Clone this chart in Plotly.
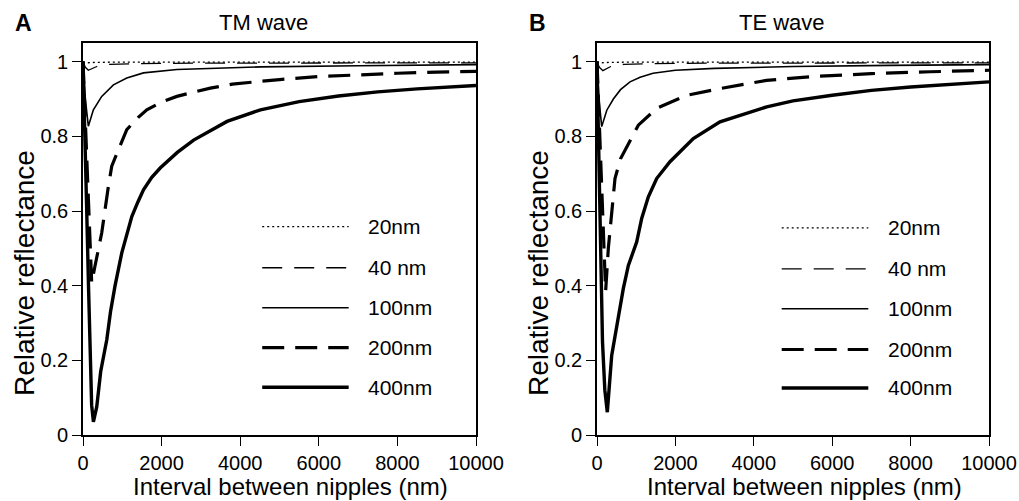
import plotly.graph_objects as go

# ---------------- data ----------------
x_ticks = [0, 2000, 4000, 6000, 8000, 10000]
x_tick_labels = ["0", "2000", "4000", "6000", "8000", "10000"]
y_ticks = [0, 0.2, 0.4, 0.6, 0.8, 1.0]
y_tick_labels = ["0", "0.2", "0.4", "0.6", "0.8", "1"]

series_names = ["20nm", "40 nm", "100nm", "200nm", "400nm"]

# TM wave (panel A)
tm_20_x = [0, 100, 300, 1000, 4000, 10000]
tm_20_y = [1.0, 0.997, 0.998, 0.999, 0.999, 0.999]
tm_40_x = [0, 60, 136, 349, 689, 1500, 3000, 6000, 10000]
tm_40_y = [1.0, 0.985, 0.977, 0.987, 0.993, 0.995, 0.996, 0.997, 0.997]
tm_100_x = [0, 60, 136, 264, 476, 774, 1114, 1539, 2389, 4515, 7000, 10000]
tm_100_y = [1.0, 0.90, 0.827, 0.871, 0.907, 0.938, 0.956, 0.970, 0.979, 0.986, 0.989, 0.992]
tm_200_x = [0, 60, 130, 221, 300, 476, 646, 731, 901, 1114, 1400, 1624, 2000, 2389,
            2800, 3240, 3800, 4430, 5000, 6000, 7000, 8000, 9000, 10000]
tm_200_y = [1.0, 0.84, 0.63, 0.407, 0.45, 0.541, 0.666, 0.72, 0.764, 0.818, 0.85, 0.871,
            0.892, 0.907, 0.918, 0.929, 0.94, 0.947, 0.952, 0.96, 0.965, 0.969, 0.972, 0.974]
tm_400_x = [0, 40, 90, 140, 180, 220, 265, 350, 450, 605, 700, 816, 987, 1100, 1242,
            1400, 1539, 1750, 1964, 2400, 2815, 3666, 4515, 5500, 6500, 7500, 8500, 10000]
tm_400_y = [1.0, 0.86, 0.62, 0.40, 0.22, 0.08, 0.035, 0.076, 0.17, 0.255, 0.33, 0.40,
            0.488, 0.53, 0.585, 0.625, 0.657, 0.69, 0.715, 0.757, 0.79, 0.84, 0.871,
            0.893, 0.908, 0.919, 0.927, 0.936]

# TE wave (panel B)
te_20_x = [0, 100, 300, 1000, 4000, 10000]
te_20_y = [1.0, 0.997, 0.998, 0.999, 0.999, 0.999]
te_40_x = [0, 60, 150, 349, 689, 1500, 3000, 6000, 10000]
te_40_y = [1.0, 0.985, 0.976, 0.987, 0.993, 0.995, 0.996, 0.997, 0.997]
te_100_x = [0, 50, 120, 250, 417, 600, 842, 1100, 1430, 2000, 3000, 5000, 7500, 10000]
te_100_y = [1.0, 0.90, 0.826, 0.87, 0.90, 0.925, 0.946, 0.958, 0.969, 0.977, 0.982,
            0.987, 0.990, 0.992]
te_200_x = [0, 60, 130, 220, 289, 370, 459, 600, 800, 1054, 1523, 2288, 3138, 4328,
            5500, 7000, 8500, 10000]
te_200_y = [1.0, 0.82, 0.60, 0.385, 0.50, 0.60, 0.687, 0.74, 0.78, 0.83, 0.875, 0.91,
            0.928, 0.95, 0.96, 0.968, 0.973, 0.977]
te_400_x = [0, 40, 80, 140, 200, 263, 375, 502, 671, 800, 1012, 1140, 1310, 1522, 1862,
            2457, 3138, 4329, 5000, 6000, 7000, 8000, 9000, 10000]
te_400_y = [1.0, 0.80, 0.52, 0.25, 0.12, 0.061, 0.213, 0.293, 0.392, 0.454, 0.517, 0.58,
            0.638, 0.687, 0.732, 0.794, 0.839, 0.879, 0.895, 0.91, 0.923, 0.932, 0.94, 0.946]

# ---------------- styles ----------------
FONT = "Liberation Sans, Arial, Helvetica, sans-serif"
styles = [
    dict(width=1.3, dash="2px,3px"),      # 20nm dotted
    dict(width=1.3, dash="20px,12px"),    # 40nm thin dash
    dict(width=1.6, dash="solid"),        # 100nm thin solid
    dict(width=3.2, dash="22px,11px"),    # 200nm thick dash
    dict(width=3.4, dash="solid"),        # 400nm thick solid
]

tm = [(tm_20_x, tm_20_y), (tm_40_x, tm_40_y), (tm_100_x, tm_100_y),
      (tm_200_x, tm_200_y), (tm_400_x, tm_400_y)]
te = [(te_20_x, te_20_y), (te_40_x, te_40_y), (te_100_x, te_100_y),
      (te_200_x, te_200_y), (te_400_x, te_400_y)]

fig = go.Figure()
for panel, (xa, ya) in ((tm, ("x", "y")), (te, ("x2", "y2"))):
    for (xs, ys), st, name in zip(panel, styles, series_names):
        fig.add_trace(go.Scatter(x=xs, y=ys, mode="lines", name=name, xaxis=xa, yaxis=ya,
                                 line=dict(color="black", width=st["width"], dash=st["dash"]),
                                 showlegend=False, hoverinfo="skip"))

# the page body margin is removed below, so the figure fills the window exactly
W, H = 1019, 501
def px(v):
    return v / W
def py(v):
    return 1 - v / H

axis_common = dict(showgrid=False, zeroline=False, showline=True, linecolor="black",
                   linewidth=1.6, mirror=True, ticks="outside", ticklen=9, tickwidth=1.4,
                   tickcolor="black", automargin=False, ticklabeloverflow="allow",
                   tickfont=dict(family=FONT, size=20, color="black"))

fig.update_layout(
    width=W, height=H, margin=dict(l=0, r=0, t=0, b=0, autoexpand=False),
    paper_bgcolor="white", plot_bgcolor="white", showlegend=False,
    xaxis=dict(domain=[px(83), px(476)], range=[0, 10000], tickvals=x_ticks,
               ticktext=x_tick_labels, anchor="y", **axis_common),
    yaxis=dict(domain=[py(435), py(43)], range=[0, 1.05], tickvals=y_ticks,
               ticktext=y_tick_labels, anchor="x", **axis_common),
    xaxis2=dict(domain=[px(597), px(989)], range=[0, 10000], tickvals=x_ticks,
                ticktext=x_tick_labels, anchor="y2", **axis_common),
    yaxis2=dict(domain=[py(435), py(43)], range=[0, 1.05], tickvals=y_ticks,
                ticktext=y_tick_labels, anchor="x2", **axis_common),
)

# legend samples (one per panel) drawn inside each plot
legend_y_tm = [0.558, 0.448, 0.341, 0.234, 0.128]
legend_y_te = [0.555, 0.445, 0.338, 0.229, 0.126]
for (xr, yr, x0, x1, xt, ly) in (("x", "y", 4560, 6760, 7190, legend_y_tm),
                                   ("x2", "y2", 4712, 6921, 7372, legend_y_te)):
    for st, name, yy in zip(styles, series_names, ly):
        fig.add_shape(type="line", xref=xr, yref=yr, x0=x0, x1=x1, y0=yy, y1=yy,
                      line=dict(color="black", width=st["width"], dash=st["dash"]))
        fig.add_annotation(xref=xr, yref=yr, x=xt, y=yy, text=name, showarrow=False,
                           xanchor="left", yanchor="middle",
                           font=dict(family=FONT, size=21, color="black"))

# titles, panel letters and axis titles
ann = [
    dict(x=px(13), y=py(23), text="<b>A</b>", xanchor="left", size=23),
    dict(x=px(527), y=py(23), text="<b>B</b>", xanchor="left", size=23),
    dict(x=px(217), y=py(22), text="TM wave", xanchor="left", size=22),
    dict(x=px(737), y=py(22), text="TE wave", xanchor="left", size=22),
    dict(x=px(290), y=py(486), text="Interval between nipples (nm)", xanchor="center", size=24),
    dict(x=px(804), y=py(486), text="Interval between nipples (nm)", xanchor="center", size=24),
]
for a in ann:
    fig.add_annotation(xref="paper", yref="paper", x=a["x"], y=a["y"], text=a["text"],
                       showarrow=False, xanchor=a["xanchor"], yanchor="middle",
                       font=dict(family=FONT, size=a["size"], color="black"))
for xx in (24, 538):
    fig.add_annotation(xref="paper", yref="paper", x=px(xx), y=py(273),
                       text="Relative reflectance", textangle=-90, showarrow=False,
                       xanchor="center", yanchor="middle",
                       font=dict(family=FONT, size=28, color="black"))

fig.write_html("out.html", config={"displayModeBar": False},
               post_script="document.body.style.margin='0';document.body.style.overflow='hidden';")
